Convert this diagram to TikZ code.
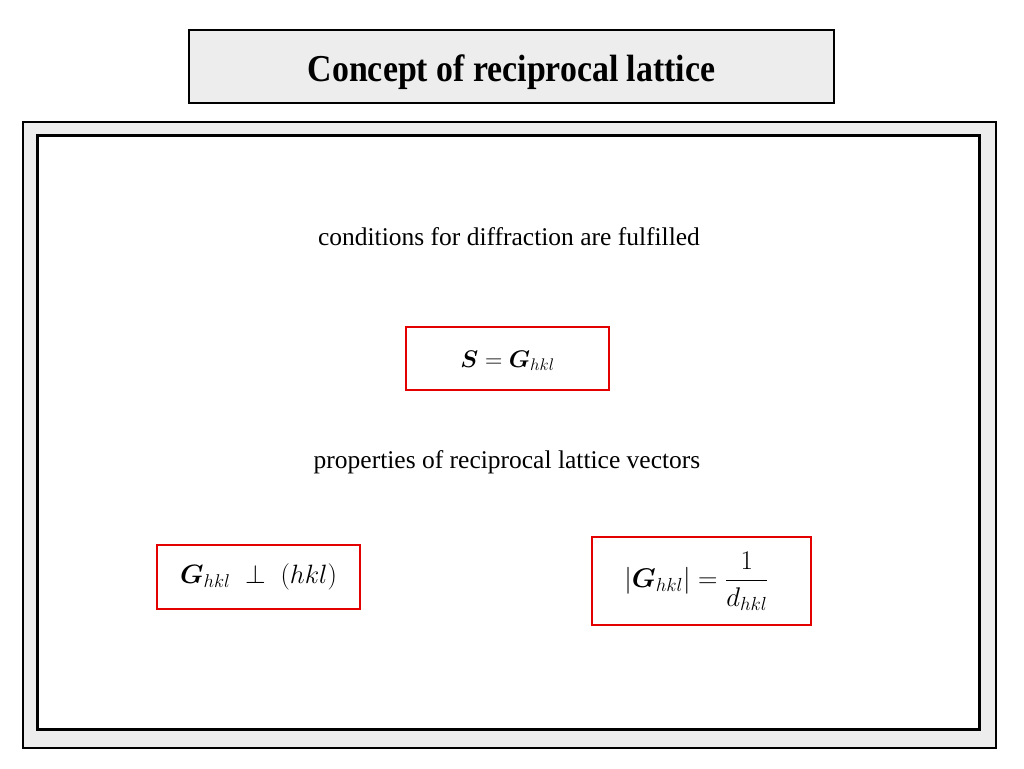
\RequirePackage{fix-cm}
\documentclass[tikz,border=0pt]{standalone}
\usepackage{amsmath,bm}
\usepackage{fontspec}
\setmainfont{Liberation Serif}
\tikzset{
  redbox/.style={draw=red!90!black, line width=2pt, minimum height=#1, inner sep=0pt},
  plaintext/.style={font=\fontsize{25.5}{30}\selectfont},
}
\begin{document}
\begin{tikzpicture}[x=1pt,y=-1pt]
					\useasboundingbox (0,0) rectangle (1024,768);
%					% Title
					\node[draw, line width=2pt, fill=black!7, minimum width=645, minimum height=73, inner sep=0pt] (title) at (511.5,66.5) {\raisebox{-15.5pt}[0pt][0pt]{\scalebox{0.89}[1]{\fontsize{38}{42}\selectfont\bfseries Concept of reciprocal lattice}}};
%					% Frames
					\draw[line width=2pt, fill=black!7] (23,122) rectangle (996,748);
					\draw[line width=3pt, fill=white] (37,135) rectangle (979,729);
%					% Texts
					\node[plaintext] (cond) at (509,237) {conditions for diffraction are fulfilled};
					\node[plaintext] (props) at (507,462) {properties of reciprocal lattice vectors};
%					% Equations
					\node[redbox=63, minimum width=203] (eqS) at (507.5,358.5) {\raisebox{-3pt}[0.7\height][0pt]{\fontsize{24}{28}\selectfont$\bm{S}=\bm{G}_{hkl}$}};
					\node[redbox=64, minimum width=203] (eqPerp) at (258.5,577) {\fontsize{26.5}{30}\selectfont$\bm{G}_{hkl}\;\perp\;(hkl)$};
					\node[redbox=88, minimum width=219] (eqLen) at (701.5,581) {\fontsize{27}{30}\selectfont$|\bm{G}_{hkl}|=\dfrac{1}{d_{hkl}}$\kern10pt};
\end{tikzpicture}
\end{document}
